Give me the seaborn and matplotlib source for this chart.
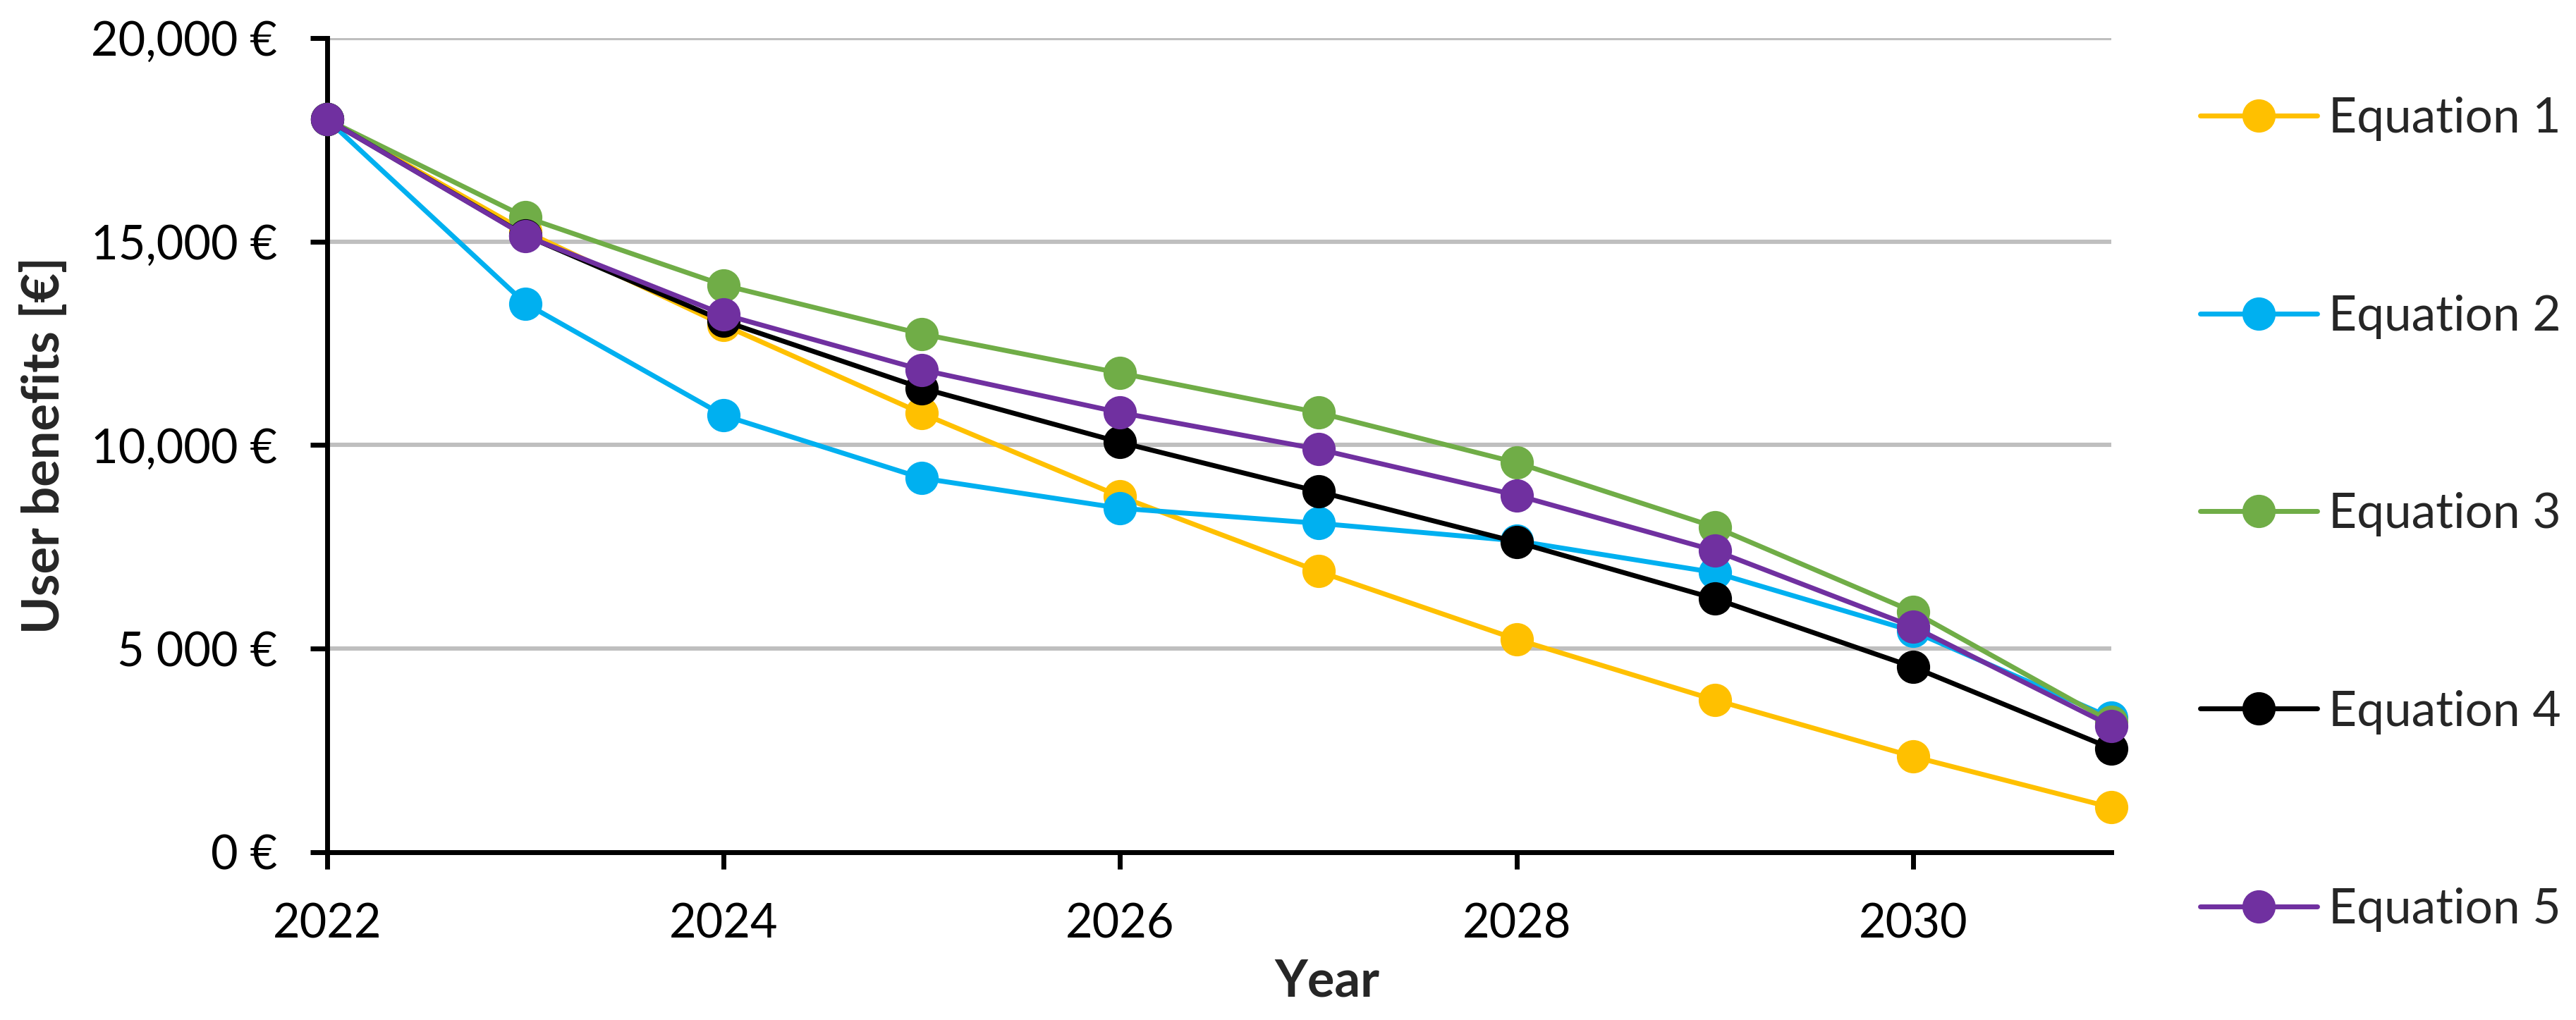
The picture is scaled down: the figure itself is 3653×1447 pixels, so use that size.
import numpy as np
import pandas as pd
import matplotlib
matplotlib.use("Agg")
import matplotlib.pyplot as plt
import seaborn as sns

# ── Data ──────────────────────────────────────────────────────────────────────
years = [2022, 2023, 2024, 2025, 2026, 2027, 2028, 2029, 2030, 2031]

eq1 = [18000, 15250, 12950, 10780, 8740, 6900, 5230, 3740, 2350, 1100]
eq2 = [18000, 13480, 10730, 9190, 8450, 8080, 7650, 6870, 5430, 3300]
eq3 = [18000, 15600, 13930, 12730, 11770, 10800, 9570, 7990, 5910, 3200]
eq4 = [18000, 15150, 13050, 11400, 10070, 8860, 7620, 6230, 4550, 2550]
eq5 = [18000, 15140, 13210, 11850, 10800, 9900, 8770, 7410, 5540, 3100]

series_names = ["Equation 1", "Equation 2", "Equation 3", "Equation 4", "Equation 5"]
series_values = [eq1, eq2, eq3, eq4, eq5]
colors = ["#FFC000", "#00B0F0", "#70AD47", "#000000", "#7030A0"]

y_ticks = [0, 5000, 10000, 15000, 20000]
y_tick_labels = ["0 €", "5 000 €", "10,000 €", "15,000 €", "20,000 €"]
x_ticks = [2022, 2024, 2026, 2028, 2030]

# ── Style ─────────────────────────────────────────────────────────────────────
sns.set_style("white")
plt.rcParams["font.family"] = ["Lato", "DejaVu Sans"]

fig = plt.figure(figsize=(18.265, 7.235), dpi=200)
ax = fig.add_axes([0.127, 0.1645, 0.6926, 0.7982])

for name, vals, col in zip(series_names, series_values, colors):
    df = pd.DataFrame({"Year": years, "Benefit": vals})
    sns.lineplot(data=df, x="Year", y="Benefit", ax=ax, color=col, label=name,
                 linewidth=2.5, marker="o", markersize=17, markeredgewidth=0,
                 clip_on=False, zorder=3)

ax.set_xlim(2022, 2031)
ax.set_ylim(0, 20000)
ax.set_xticks(x_ticks)
ax.set_xticklabels([str(y) for y in x_ticks])
ax.set_yticks(y_ticks)
ax.set_yticklabels(y_tick_labels)

ax.yaxis.grid(True, color="#BFBFBF", linewidth=2.2, zorder=0)
ax.xaxis.grid(False)
ax.set_axisbelow(True)

for side in ["top", "right"]:
    ax.spines[side].set_visible(False)
for side in ["left", "bottom"]:
    ax.spines[side].set_color("black")
    ax.spines[side].set_linewidth(2.5)

ax.tick_params(axis="both", which="major", direction="out", length=8.6,
               width=2.5, color="black", pad=17, labelsize=24, labelcolor="black")
ax.tick_params(axis="x", bottom=True)
ax.tick_params(axis="y", left=True)

ax.set_xlabel("Year", fontsize=26, fontweight="bold")
ax.set_ylabel("User benefits [€]", fontsize=26, fontweight="bold")
ax.xaxis.set_label_coords(0.5605, -0.13)
ax.yaxis.set_label_coords(-0.145, 0.5)

# ── Legend ────────────────────────────────────────────────────────────────────
handles, labels = ax.get_legend_handles_labels()
ax.get_legend().remove()
fig.legend(handles, labels, loc="upper left", bbox_to_anchor=(0.854, 0.905),
           frameon=False, fontsize=25, handlelength=2.4, handletextpad=0.23,
           labelspacing=3.13, borderpad=0, borderaxespad=0)

plt.savefig("out.png", dpi=200)
